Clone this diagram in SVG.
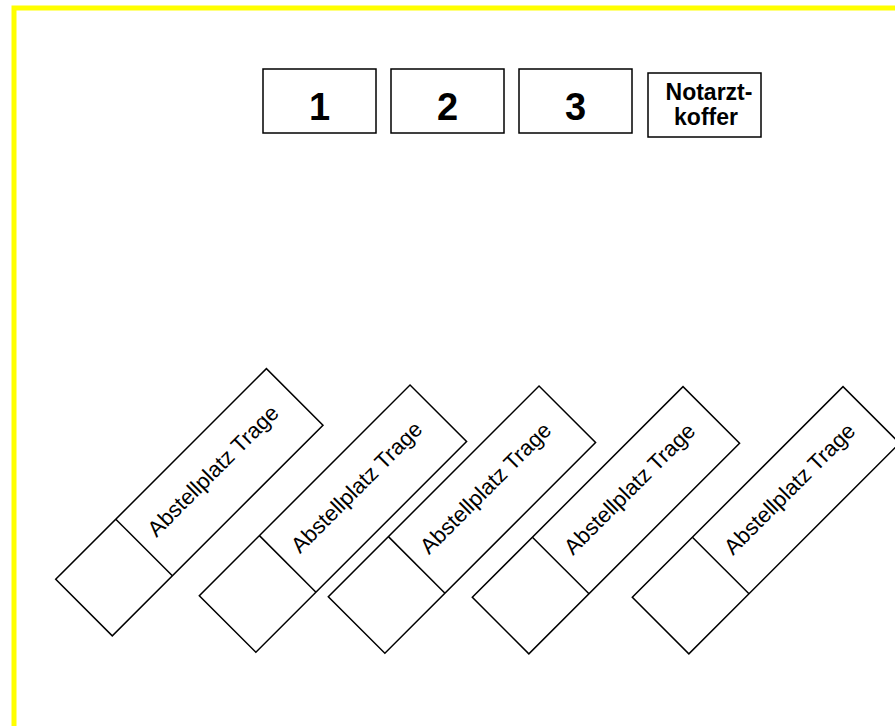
<svg xmlns="http://www.w3.org/2000/svg" width="895" height="726" viewBox="0 0 895 726">
<style>
.box{fill:#fff;stroke:#000;stroke-width:1.5}
.num{font-family:"Liberation Sans",Arial,sans-serif;font-weight:bold;font-size:38px;text-anchor:middle;fill:#000}
.nk{font-family:"Liberation Sans",Arial,sans-serif;font-weight:bold;font-size:23px;text-anchor:middle;fill:#000}
.tr{fill:#fff;stroke:#000;stroke-width:1.5}
.lbl{font-family:"Liberation Sans",Arial,sans-serif;font-size:22px;text-anchor:middle;fill:#000}
</style>
<defs>
<g id="trage">
<rect class="tr" x="0" y="0" width="298" height="80"/>
<line x1="85" y1="0" x2="85" y2="80" stroke="#000" stroke-width="1.5"/>
</g>
</defs>
<rect x="0" y="0" width="895" height="726" fill="#fff"/>
<rect x="14" y="8" width="900" height="740" fill="none" stroke="#ffff00" stroke-width="5"/>
<g id="box1"><rect class="box" x="263" y="69" width="113" height="64"/><text class="num" x="319.5" y="120">1</text></g>
<g id="box2"><rect class="box" x="391" y="69" width="113" height="64"/><text class="num" x="447.5" y="120">2</text></g>
<g id="box3"><rect class="box" x="519" y="69" width="113" height="64"/><text class="num" x="575.5" y="120">3</text></g>
<g id="notarzt"><rect class="box" x="648" y="73" width="113" height="64"/><text class="nk" x="709" y="100">Notarzt-</text><text class="nk" x="706" y="125">koffer</text></g>
<g id="trage1" transform="translate(55.7,579.3) rotate(-45)"><use href="#trage"/><text class="lbl" x="188" y="42">Abstellplatz Trage</text></g>
<g id="trage2" transform="translate(199.3,595.7) rotate(-45)"><use href="#trage"/><text class="lbl" x="188" y="42">Abstellplatz Trage</text></g>
<g id="trage3" transform="translate(328.3,596.7) rotate(-45)"><use href="#trage"/><text class="lbl" x="188" y="42">Abstellplatz Trage</text></g>
<g id="trage4" transform="translate(472.3,597.3) rotate(-45)"><use href="#trage"/><text class="lbl" x="188" y="42">Abstellplatz Trage</text></g>
<g id="trage5" transform="translate(632.3,597.3) rotate(-45)"><use href="#trage"/><text class="lbl" x="188" y="42">Abstellplatz Trage</text></g>
<g id="connectors"/>
</svg>
